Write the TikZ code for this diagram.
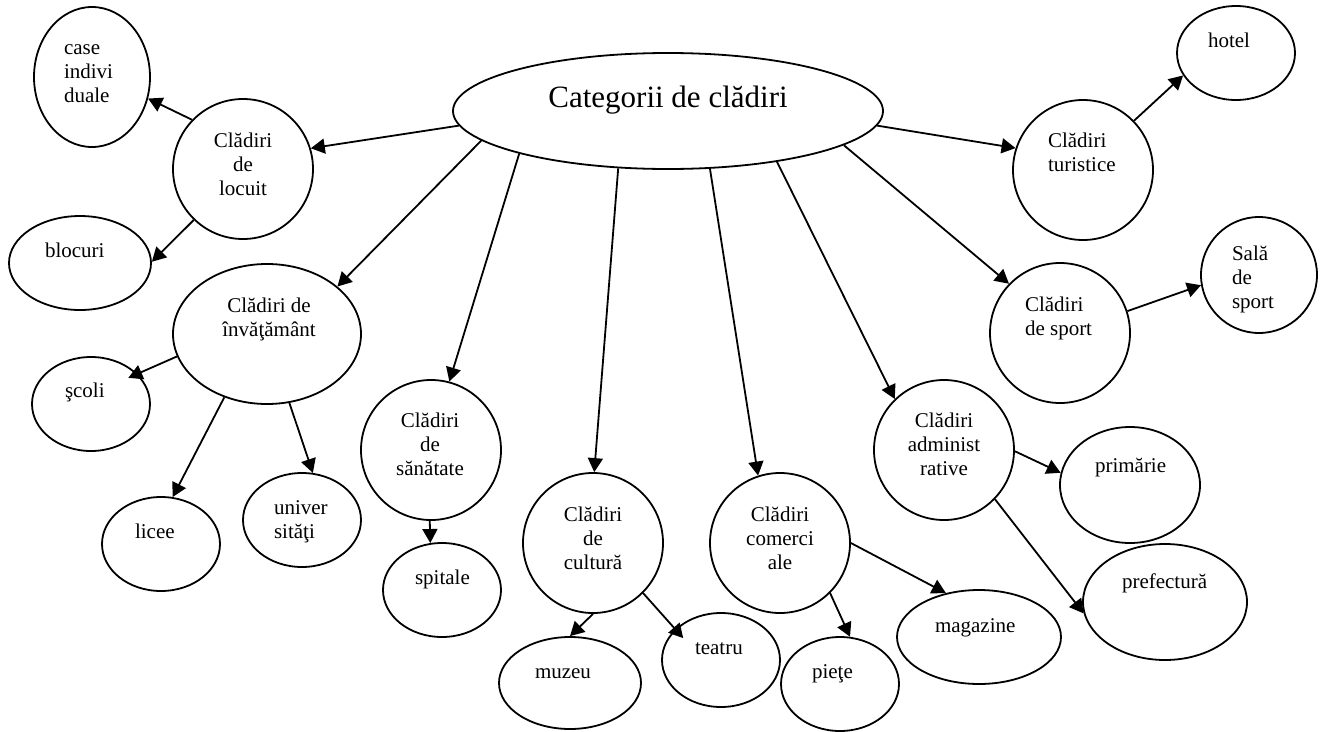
\documentclass[tikz,border=0pt]{standalone}
\usepackage{fontspec}
\setmainfont{Liberation Serif}
\usetikzlibrary{shapes.geometric,arrows.meta}
\begin{document}
\begin{tikzpicture}[x=1pt,y=-1pt,
  ell/.style args={#1x#2}{draw, ellipse, line width=1.8pt, inner sep=0pt,
    minimum width=#1pt, minimum height=#2pt},
  arr/.style={-{Triangle[length=14pt,width=15pt]}, line width=1.8pt},
  lbl/.style={inner sep=0pt, outer sep=0pt, font=\fontsize{21}{24}\selectfont},
  lft/.style={lbl, anchor=north west, align=left},
  ctr/.style={lbl, anchor=north, align=center}]
\useasboundingbox (0,0) rectangle (1325,731);

% central category
\node[ell=430x116] (C) at (668,111) {};
\node[inner sep=0pt, anchor=base, font=\fontsize{31}{36}\selectfont] (Ct) at (668,107) {Categorii de clădiri};

% main groups
\node[ell=140x140] (loc)   at (243,169) {};
\node[ell=188x140] (inv)   at (267,334) {};
\node[ell=140x140] (san)   at (431,450) {};
\node[ell=140x140] (cult)  at (593,543) {};
\node[ell=140x140] (com)   at (780,543) {};
\node[ell=140x140] (adm)   at (944,450) {};
\node[ell=140x140] (sport) at (1060,333) {};
\node[ell=140x140] (tur)   at (1083,170) {};

% examples
\node[ell=116x140] (case)   at (92,77) {};
\node[ell=142x94]  (bloc)   at (80,263) {};
\node[ell=118x94]  (scoli)  at (91,404) {};
\node[ell=118x94]  (licee)  at (161,544) {};
\node[ell=118x94]  (univ)   at (302,520) {};
\node[ell=118x94]  (spit)   at (442,590) {};
\node[ell=142x92]  (muz)    at (570,683) {};
\node[ell=118x94]  (teatru) at (721,660) {};
\node[ell=118x94]  (piete)  at (840,684) {};
\node[ell=164x94]  (mag)    at (979,637) {};
\node[ell=140x116] (prim)   at (1130,485) {};
\node[ell=164x116] (pref)   at (1165,602) {};
\node[ell=118x94]  (hotel)  at (1236,53) {};
\node[ell=116x116] (sala)   at (1259,275) {};

% labels of the groups
\node[ctr] (loct)   at (243,130.2)  {\strut Clădiri\\de\\locuit};
\node[ctr] (invt)   at (269,295.2)  {\strut Clădiri de\\învăţământ};
\node[ctr] (sant)   at (430,410.2)  {\strut Clădiri\\de\\sănătate};
\node[ctr] (cultt)  at (593,504.2)  {\strut Clădiri\\de\\cultură};
\node[ctr] (comt)   at (780,504.2)  {\strut Clădiri\\comerci\\ale};
\node[ctr] (admt)   at (944,410.2)  {\strut Clădiri\\administ\\rative};
\node[lft] (sportt) at (1025,294.2) {\strut Clădiri\\de sport};
\node[lft] (turt)   at (1048,130.2) {\strut Clădiri\\turistice};

% labels of the examples
\node[lft] (caset)   at (64,37.2)    {\strut case\\indivi\\duale};
\node[lft] (bloct)   at (45,240.2)   {\strut blocuri};
\node[lft] (scolit)  at (65,380.2)   {\strut şcoli};
\node[lft] (liceet)  at (135,521.2)  {\strut licee};
\node[lft] (univt)   at (274,497.2)  {\strut univer\\sităţi};
\node[lft] (spitt)   at (415,567.2)  {\strut spitale};
\node[lft] (muzt)    at (535,661.2)  {\strut muzeu};
\node[lft] (teatrut) at (695,637.2)  {\strut teatru};
\node[lft] (pietet)  at (812,661.2)  {\strut pieţe};
\node[lft] (magt)    at (935,615.2)  {\strut magazine};
\node[lft] (primt)   at (1095,455.2) {\strut primărie};
\node[lft] (preft)   at (1122,571.2) {\strut prefectură};
\node[lft] (hotelt)  at (1208,30.2)  {\strut hotel};
\node[lft] (salat)   at (1232,243.2) {\strut Sală\\de\\sport};

% connectors from the central node
\draw[arr] (C.184) -- (loc.17);
\draw[arr] (C.189) -- (inv.34);
\draw[arr] (C.196) -- (san.75);
\draw[arr] (C.229) -- (cult.89);
\draw[arr] (C.306) -- (com.108);
\draw[arr] (C.335) -- (adm.134);
\draw[arr] (C.349) -- (sport.136);
\draw[arr] (C.356) -- (tur.162);

% connectors to the examples
\draw[arr] (loc.136)  -- (case.339);
\draw[arr] (loc.226)  -- (bloc.1);
\draw[arr, shorten >=-10pt] (inv.194) -- (scoli.33);
\draw[arr] (inv.236)  -- (licee.76);
\draw[arr] (inv.288)  -- (univ.77);
\draw[arr] (san.269)  -- (spit.104);
\draw[arr] (cult.270) -- (muz.90);
\draw[arr, shorten >=-12pt] (cult.315) -- (teatru.146);
\draw[arr] (com.315)  -- (piete.78);
\draw[arr] (com.0)    -- (mag.127);
\draw[arr] (adm.359)  -- (prim.170);
\draw[arr] (adm.316)  -- (pref.188);
\draw[arr] (tur.44)   -- (hotel.203);
\draw[arr] (sport.18) -- (sala.190);
\end{tikzpicture}
\end{document}
